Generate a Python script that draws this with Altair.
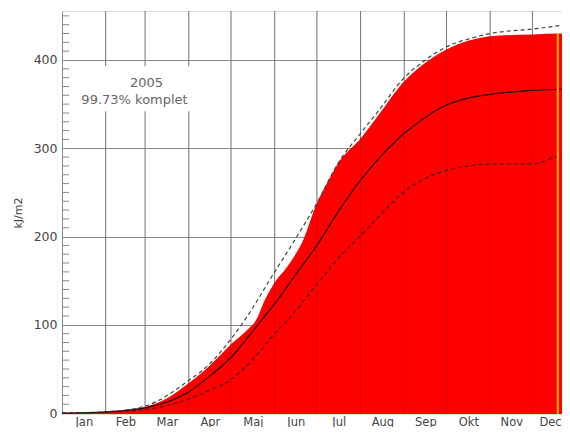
import altair as alt
import pandas as pd

# ---- data ----
month_names = ["Jan", "Feb", "Mar", "Apr", "Maj", "Jun", "Jul", "Aug", "Sep", "Okt", "Nov", "Dec"]
month_start = [0, 31, 59, 90, 120, 151, 181, 212, 243, 273, 304, 334]
month_len = [31, 28, 31, 30, 31, 30, 31, 31, 30, 31, 30, 31]

y_major = [0, 100, 200, 300, 400]
y_minor = [v for v in range(10, 451, 10) if v % 100 != 0]

# 2005 cumulative (red area)
red_days = [0, 15, 31, 45, 59, 75, 90, 105, 120, 132, 138, 144, 151, 160, 172, 180, 188, 196, 212, 224, 243, 258, 273, 289, 304, 334, 358]
red_vals = [0, 0.5, 1.5, 3.5, 7, 17, 34, 54, 78, 95, 106, 128, 148, 166, 199, 234, 260, 283, 311, 336, 376, 397, 412, 422, 427, 429, 430]

# mean (solid)
mean_days = [0, 31, 59, 90, 105, 120, 135, 151, 166, 181, 196, 212, 227, 243, 258, 273, 289, 304, 334, 358]
mean_vals = [0, 1.5, 6, 24, 42, 63, 92, 124, 157, 190, 228, 264, 292, 317, 335, 349, 357, 361, 365.5, 367]

# max (upper dashed)
max_days = [0, 31, 59, 90, 105, 120, 130, 151, 166, 181, 196, 212, 224, 243, 258, 273, 289, 304, 334, 358]
max_vals = [0, 1.5, 8, 37, 56, 84, 106, 160, 198, 238, 283, 317, 341, 380, 400, 415, 424, 430, 435, 440]

# min (lower dashed)
min_days = [0, 31, 59, 90, 105, 120, 135, 151, 160, 181, 196, 212, 224, 243, 258, 273, 289, 304, 334, 342, 350, 358]
min_vals = [0, 1, 4, 16, 26, 38, 60, 90, 105, 146, 175, 201, 221, 251, 266, 275, 280, 282, 282, 285, 290, 291]

marker_day = 352
year_text = "2005"
komplet_text = "99.73% komplet"

# ---- build ----
X_DOM = [0, 355]
Y_DOM = [-1, 455.5]
W, H = 500, 403

month_mid = [s + l / 2 for s, l in zip(month_start, month_len)]
# keep the last label inside the visible area
label_pos = [min(m, X_DOM[1] - 8.5) for m in month_mid]
label_expr = ("[" + ",".join(f"'{m}'" for m in month_names) + "][indexof(["
              + ",".join(str(v) for v in label_pos) + "], datum.value)]")

xs = alt.Scale(domain=X_DOM, nice=False, zero=False)
ys = alt.Scale(domain=Y_DOM, nice=False, zero=False)

x_axis = alt.Axis(values=label_pos, labelExpr=label_expr, grid=False, ticks=False,
                  domain=False, labelPadding=2, title=None, labelFontSize=11.5,
                  labelColor="#444", labelFont="DejaVu Sans", labelOverlap=False,
                  labelBound=False)
y_axis = alt.Axis(values=y_major, grid=True, gridColor="#888", gridWidth=1, ticks=False,
                  domainColor="#888", labelPadding=5, title="kJ/m2", titlePadding=10,
                  titleFontWeight="normal", titleFontSize=11, titleColor="#444",
                  labelFontSize=12.5, labelColor="#444", labelFont="DejaVu Sans",
                  titleFont="DejaVu Sans")

red_df = pd.DataFrame({"day": red_days, "v": red_vals})
mean_df = pd.DataFrame({"day": mean_days, "v": mean_vals})
max_df = pd.DataFrame({"day": max_days, "v": max_vals})
min_df = pd.DataFrame({"day": min_days, "v": min_vals})
grid_df = pd.DataFrame({"day": month_start[1:]})
minor_df = pd.DataFrame({"v": y_minor})

base_axes = alt.Chart(red_df).mark_area(color="#ff0000", opacity=0).encode(
    x=alt.X("day:Q", scale=xs, axis=x_axis),
    y=alt.Y("v:Q", scale=ys, axis=y_axis),
)

grid_back = alt.Chart(grid_df).mark_rule(color="#888", strokeWidth=1).encode(
    x=alt.X("day:Q", scale=xs))

area = alt.Chart(red_df).mark_area(color="#ff0000", interpolate="monotone").encode(
    x=alt.X("day:Q", scale=xs),
    y=alt.Y("v:Q", scale=ys),
    y2=alt.datum(Y_DOM[0]),
)

grid_front = alt.Chart(grid_df).mark_rule(color="#000", opacity=0.13, strokeWidth=1).encode(
    x=alt.X("day:Q", scale=xs))

mean_line = alt.Chart(mean_df).mark_line(color="#000", strokeWidth=1.2, opacity=0.85,
                                         interpolate="monotone").encode(
    x=alt.X("day:Q", scale=xs), y=alt.Y("v:Q", scale=ys))
max_line = alt.Chart(max_df).mark_line(color="#444", strokeWidth=1.2, strokeDash=[4, 3],
                                       interpolate="monotone").encode(
    x=alt.X("day:Q", scale=xs), y=alt.Y("v:Q", scale=ys))
min_line = alt.Chart(min_df).mark_line(color="#222", strokeWidth=1.2, strokeDash=[4, 3],
                                       opacity=0.85, interpolate="monotone").encode(
    x=alt.X("day:Q", scale=xs), y=alt.Y("v:Q", scale=ys))

marker = alt.Chart(pd.DataFrame({"day": [marker_day], "v": [red_vals[-1]]})).mark_rule(
    color="#ffbf00", strokeWidth=2).encode(
    x=alt.X("day:Q", scale=xs), y=alt.Y("v:Q", scale=ys), y2=alt.datum(Y_DOM[0]))

box = alt.Chart(pd.DataFrame({"x": [3.5], "x2": [97], "y": [342], "y2": [393]})).mark_rect(
    color="white").encode(
    x=alt.X("x:Q", scale=xs), x2="x2:Q", y=alt.Y("y:Q", scale=ys), y2="y2:Q")

texts = alt.Chart(pd.DataFrame({"day": [60, 51.5], "v": [374, 355],
                                "t": [year_text, komplet_text]})).mark_text(
    font="DejaVu Sans", fontSize=13, color="#666", align="center", baseline="middle").encode(
    x=alt.X("day:Q", scale=xs), y=alt.Y("v:Q", scale=ys), text="t:N")

minor = alt.Chart(minor_df).mark_rule(color="#888", strokeWidth=1).encode(
    y=alt.Y("v:Q", scale=ys), x=alt.value(0), x2=alt.value(7))

chart = alt.layer(base_axes, grid_back, area, grid_front, mean_line, max_line, min_line,
                  marker, box, texts, minor).properties(
    width=W, height=H,
    autosize=alt.AutoSizeParams(type="none"),
    padding={"left": 54, "top": 3, "right": 0, "bottom": 13},
).configure_view(stroke="#888", strokeWidth=1.5).configure(background="white")

chart.save("out.html", embed_options={"renderer": "svg", "actions": False})
